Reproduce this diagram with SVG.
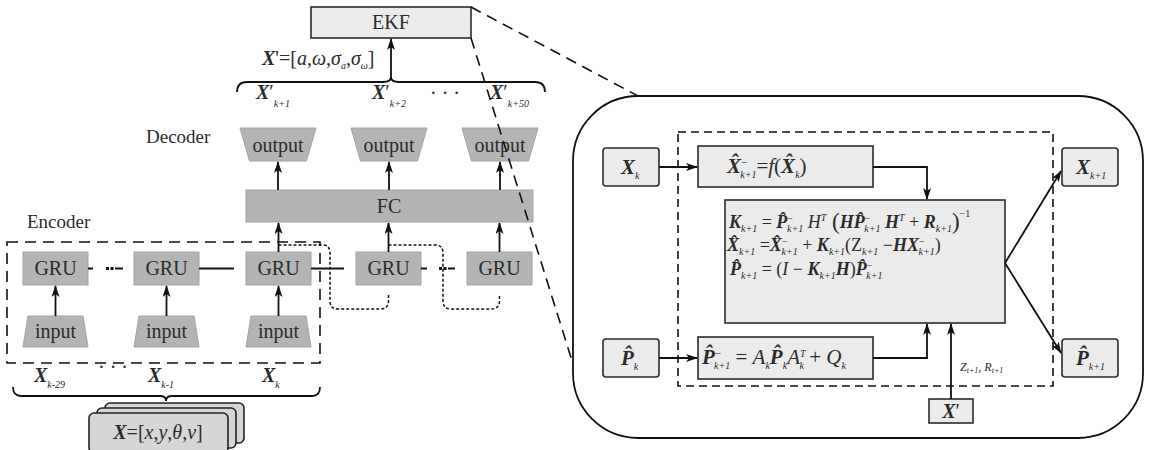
<svg xmlns="http://www.w3.org/2000/svg" width="1155" height="450" viewBox="0 0 1155 450">
<defs>
<style>
text{font-family:"Liberation Serif","Times New Roman",serif;fill:#2b2b2b}
.lbl{font-size:20px;text-anchor:middle}
.g{fill:#b4b4b4;stroke:#a3a3a3;stroke-width:1}
.w{fill:#ebebeb;stroke:#2b2b2b;stroke-width:1.6}
.ln{fill:none;stroke:#111;stroke-width:1.8}
.dash{fill:none;stroke:#111;stroke-width:1.6;stroke-dasharray:11,7}
.dot{fill:none;stroke:#111;stroke-width:1.5;stroke-dasharray:3,2}
.i{font-style:italic}
.bi{font-style:italic;font-weight:bold}
.s{font-size:10px;font-style:italic}
</style>
<marker id="ah" markerUnits="userSpaceOnUse" markerWidth="12" markerHeight="8" refX="11" refY="4" orient="auto">
<path d="M0,0 L12,4 L0,8 L3,4 z" fill="#111"/>
</marker>
</defs>
<rect width="1155" height="450" fill="#fff"/>

<g id="ekf">
<rect x="311" y="7" width="160" height="31" class="w"/>
<text x="391" y="29" class="lbl" font-size="19">EKF</text>
</g>
<g id="xprime-label">
<text x="262" y="65" font-size="20"><tspan class="bi">X</tspan>'=[<tspan class="i">a</tspan>,<tspan class="i">ω</tspan>,<tspan class="i">σ</tspan><tspan font-size="10" class="i" dy="4">a</tspan><tspan dy="-4">,</tspan><tspan class="i">σ</tspan><tspan font-size="10" class="i" dy="4">ω</tspan><tspan dy="-4">]</tspan></text>
</g>
<g id="top-labels" font-size="20">
<text x="256" y="99"><tspan class="bi">X</tspan><tspan>′</tspan><tspan class="s" font-size="11" dy="8">k+1</tspan></text>
<text x="372" y="99"><tspan class="bi">X</tspan><tspan>′</tspan><tspan class="s" font-size="11" dy="8">k+2</tspan></text>
<text x="430" y="100">· · ·</text>
<text x="490" y="99"><tspan class="bi">X</tspan><tspan>′</tspan><tspan class="s" font-size="11" dy="8">k+50</tspan></text>
</g>

<g id="decoder">
<text x="146" y="143" font-size="19">Decoder</text>
<polygon points="240,128 316,128 306.5,161 249.5,161" class="g"/>
<text x="278" y="152" class="lbl">output</text>
<polygon points="351,128 427,128 417.5,161 360.5,161" class="g"/>
<text x="389" y="152" class="lbl">output</text>
<polygon points="462,128 538,128 528.5,161 471.5,161" class="g"/>
<text x="500" y="152" class="lbl">output</text>
<rect x="246" y="190" width="287" height="32" class="g"/>
<text x="389" y="213" class="lbl">FC</text>
</g>

<g id="encoder">
<text x="27" y="228" font-size="19">Encoder</text>
<rect x="7" y="242" width="313" height="121" class="dash"/>
</g>
<g id="gru1"><rect x="23" y="252" width="65" height="33" class="g"/><text x="55.5" y="275" class="lbl">GRU</text></g>
<g id="gru2"><rect x="134" y="252" width="65" height="33" class="g"/><text x="166.5" y="275" class="lbl">GRU</text></g>
<g id="gru3"><rect x="246" y="252" width="65" height="33" class="g"/><text x="278.5" y="275" class="lbl">GRU</text></g>
<g id="gru4"><rect x="356" y="252" width="65" height="33" class="g"/><text x="388.5" y="275" class="lbl">GRU</text></g>
<g id="gru5"><rect x="467" y="252" width="65" height="33" class="g"/><text x="499.5" y="275" class="lbl">GRU</text></g>
<g id="input1"><polygon points="28,316 83,316 88,347 23,347" class="g"/><text x="55.5" y="338" class="lbl">input</text></g>
<g id="input2"><polygon points="139,316 194,316 199,347 134,347" class="g"/><text x="166.5" y="338" class="lbl">input</text></g>
<g id="input3"><polygon points="251,316 306,316 311,347 246,347" class="g"/><text x="278.5" y="338" class="lbl">input</text></g>

<g id="bottom-labels" font-size="20">
<text x="34" y="382"><tspan class="bi">X</tspan><tspan class="s" font-size="11" dy="6">k-29</tspan></text>
<text x="98" y="374">· · ·</text>
<text x="148" y="382"><tspan class="bi">X</tspan><tspan class="s" font-size="11" dy="6">k-1</tspan></text>
<text x="262" y="382"><tspan class="bi">X</tspan><tspan class="s" font-size="11" dy="6">k</tspan></text>
</g>
<g id="input-stack">
<rect x="105" y="403" width="139" height="40" rx="5" fill="#d6d6d6" stroke="#222" stroke-width="1.6"/>
<rect x="97" y="408" width="139" height="40" rx="5" fill="#d6d6d6" stroke="#222" stroke-width="1.6"/>
<rect x="89" y="413" width="139" height="40" rx="5" fill="#d6d6d6" stroke="#222" stroke-width="1.6"/>
<text x="158" y="439" class="lbl"><tspan class="bi">X</tspan>=[<tspan class="i">x</tspan>,<tspan class="i">y</tspan>,<tspan class="i">θ</tspan>,<tspan class="i">v</tspan>]</text>
</g>

<g id="panel">
<rect x="573" y="96" width="570" height="342" rx="65" fill="none" stroke="#111" stroke-width="1.8"/>
<rect x="678" y="132" width="375" height="254" fill="none" stroke="#111" stroke-width="1.6" stroke-dasharray="8,5"/>
</g>
<g id="xk"><rect x="603" y="148" width="56" height="38" rx="3" class="w"/><text x="621" y="174" font-size="21"><tspan class="bi">X</tspan><tspan class="s" font-size="11" dy="5">k</tspan></text></g>
<g id="pk"><rect x="603" y="339" width="56" height="38" rx="3" class="w"/><text x="621" y="365" font-size="21"><tspan class="bi">P̂</tspan><tspan class="s" font-size="11" dy="5">k</tspan></text></g>
<g id="xk1"><rect x="1062" y="148" width="56" height="38" rx="3" class="w"/><text x="1076" y="174" font-size="21"><tspan class="bi">X</tspan><tspan class="s" font-size="11" dy="5">k+1</tspan></text></g>
<g id="pk1"><rect x="1062" y="339" width="56" height="38" rx="3" class="w"/><text x="1076" y="365" font-size="21"><tspan class="bi">P̂</tspan><tspan class="s" font-size="11" dy="5">k+1</tspan></text></g>
<g id="predict-x"><rect x="698" y="146" width="175" height="41" class="w"/>
<text x="727" y="173" font-size="21"><tspan class="bi">X̂</tspan><tspan font-size="11" dy="-7">−</tspan><tspan class="s" font-size="11" dx="-7" dy="12">k+1</tspan><tspan dy="-5">=</tspan><tspan class="i">f</tspan>(<tspan class="bi">X̂</tspan><tspan class="s" font-size="11" dy="5">k</tspan><tspan dy="-5">)</tspan></text></g>
<g id="predict-p"><rect x="698" y="337" width="175" height="42" class="w"/>
<text x="702" y="364" font-size="21"><tspan class="bi">P̂</tspan><tspan font-size="11" dy="-7">−</tspan><tspan class="s" font-size="11" dx="-7" dy="12">k+1</tspan><tspan dy="-5"> = </tspan><tspan class="i">A</tspan><tspan class="s" font-size="11" dy="5">k</tspan><tspan class="bi" dy="-5">P̂</tspan><tspan class="s" font-size="11" dy="5">k</tspan><tspan class="i" dy="-5">A</tspan><tspan class="s" font-size="11" dy="-7">T</tspan><tspan class="s" font-size="11" dx="-6" dy="12">k</tspan><tspan dy="-5"> + </tspan><tspan class="i">Q</tspan><tspan class="s" font-size="11" dy="5">k</tspan></text></g>
<g id="update"><rect x="725" y="200" width="280" height="123" class="w"/>
<text x="729" y="228" font-size="18"><tspan class="bi">K</tspan><tspan class="s" font-size="10" dy="4">k+1</tspan><tspan dy="-4"> = </tspan><tspan class="bi">P̂</tspan><tspan font-size="10" dy="-6">−</tspan><tspan class="s" font-size="10" dx="-6" dy="10">k+1</tspan><tspan class="i" dy="-4"> H</tspan><tspan class="s" font-size="10" dy="-7">T</tspan><tspan font-size="23" dy="8"> (</tspan><tspan class="bi" font-size="18" dy="-1">HP̂</tspan><tspan font-size="10" dy="-6">−</tspan><tspan class="s" font-size="10" dx="-6" dy="10">k+1</tspan><tspan class="bi" dy="-4"> H</tspan><tspan class="s" font-size="10" dy="-7">T</tspan><tspan dy="7"> + </tspan><tspan class="bi">R</tspan><tspan class="s" font-size="10" dy="4">k+1</tspan><tspan font-size="23" dy="-3">)</tspan><tspan font-size="10" dy="-12">−1</tspan></text>
<text x="727" y="251" font-size="18"><tspan class="bi">X̂</tspan><tspan class="s" font-size="10" dy="4">k+1</tspan><tspan dy="-4"> =</tspan><tspan class="bi">X̂</tspan><tspan font-size="10" dy="-6">−</tspan><tspan class="s" font-size="10" dx="-6" dy="10">k+1</tspan><tspan dy="-4"> + </tspan><tspan class="bi">K</tspan><tspan class="s" font-size="10" dy="4">k+1</tspan><tspan dy="-4">(Z</tspan><tspan class="s" font-size="10" dy="4">k+1</tspan><tspan dy="-4"> −</tspan><tspan class="bi">HX</tspan><tspan font-size="10" dy="-6">−</tspan><tspan class="s" font-size="10" dx="-6" dy="10">k+1</tspan><tspan dy="-4">)</tspan></text>
<text x="730" y="275" font-size="18"><tspan class="bi">P̂</tspan><tspan class="s" font-size="10" dy="4">k+1</tspan><tspan dy="-4"> = (</tspan><tspan class="i">I</tspan><tspan> − </tspan><tspan class="bi">K</tspan><tspan class="s" font-size="10" dy="4">k+1</tspan><tspan class="bi" dy="-4">H</tspan><tspan>)</tspan><tspan class="bi">P̂</tspan><tspan font-size="10" dy="-6">−</tspan><tspan class="s" font-size="10" dx="-6" dy="10">k+1</tspan></text>
</g>
<g id="xprime"><rect x="929" y="399" width="44" height="24" class="w"/><text x="951" y="418" class="lbl"><tspan class="bi">X</tspan>′</text></g>
<text x="960" y="371" font-size="12" class="i" fill="#555">Z<tspan font-size="8" dy="2">t+1</tspan><tspan dy="-2">, R</tspan><tspan font-size="8" dy="2">t+1</tspan></text>

<g id="connectors">
<path d="M391,79 V39" class="ln" marker-end="url(#ah)"/>
<path d="M237,92 Q237,82 247,82 H383 Q391,82 391,77 Q391,82 399,82 H535 Q545,82 545,92" class="ln" stroke-width="1.6"/>
<path d="M278,190 V162" class="ln" marker-end="url(#ah)"/>
<path d="M389,190 V162" class="ln" marker-end="url(#ah)"/>
<path d="M500,190 V162" class="ln" marker-end="url(#ah)"/>
<path d="M278.5,252 V223" class="ln" marker-end="url(#ah)"/>
<path d="M388.5,252 V223" class="ln" marker-end="url(#ah)"/>
<path d="M499.5,252 V223" class="ln" marker-end="url(#ah)"/>
<path d="M55.5,316 V286" class="ln" marker-end="url(#ah)"/>
<path d="M166.5,316 V286" class="ln" marker-end="url(#ah)"/>
<path d="M278.5,316 V286" class="ln" marker-end="url(#ah)"/>
<path d="M88,268.5 H93 M115,268.5 H123 M199,268.5 H234 M311,268.5 H344 M421,268.5 H427 M448,268.5 H455" class="ln" stroke-width="1.6"/>
<rect x="106" y="267" width="3" height="3" fill="#111"/><rect x="110.5" y="267" width="3" height="3" fill="#111"/>
<rect x="439" y="267" width="3" height="3" fill="#111"/><rect x="443.5" y="267" width="3" height="3" fill="#111"/>
<path d="M278.5,245 H322 Q330,245 330,253 V301 Q330,309 338,309 H380 Q388.5,309 388.5,301 V295" class="dot"/>
<path d="M388.5,245 H435 Q443,245 443,253 V301 Q443,309 451,309 H491 Q499.5,309 499.5,301 V295" class="dot"/>
<path d="M13,387 Q13,396 21,396 H160 Q166,396 166,401 Q166,396 172,396 H312 Q320,396 320,387" class="ln" stroke-width="1.6"/>
<path d="M471,7 L638,96" class="dash" stroke-dasharray="10,7"/>
<path d="M471,38 L573,364" class="dash" stroke-dasharray="10,7"/>
<path d="M659,167 H697" class="ln" marker-end="url(#ah)"/>
<path d="M873,167 H927 V199" class="ln" marker-end="url(#ah)"/>
<path d="M659,358 H697" class="ln" marker-end="url(#ah)"/>
<path d="M873,358 H927 V324" class="ln" marker-end="url(#ah)"/>
<path d="M951,399 V324" class="ln" marker-end="url(#ah)"/>
<path d="M1005,263 L1061,171" class="ln" marker-end="url(#ah)"/>
<path d="M1005,263 L1061,353" class="ln" marker-end="url(#ah)"/>
</g>
</svg>
